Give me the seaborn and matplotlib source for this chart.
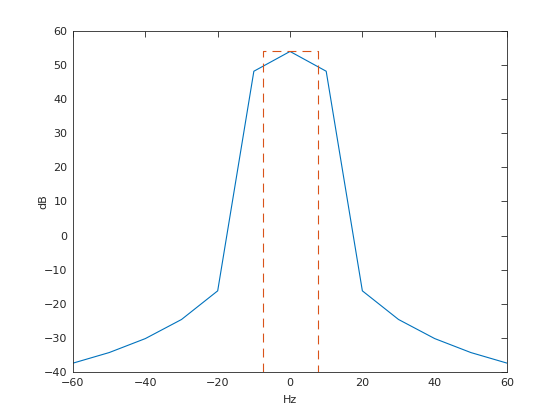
import numpy as np
import pandas as pd
import matplotlib
matplotlib.use("Agg")
import matplotlib.pyplot as plt
import seaborn as sns

sns.set_style("white")
plt.rcParams['font.family'] = ['DejaVu Sans']

freq_hz = [-60, -50, -40, -30, -20, -10, 0, 10, 20, 30, 40, 50, 60]
level_db = [-37.4, -34.3, -30.2, -24.6, -16.2, 48.2, 54.0, 48.2, -16.2, -24.6, -30.2, -34.3, -37.4]

band_x = [-7.6, -7.6, 7.6, 7.6]
band_y = [-40, 54.0, 54.0, -40]

df = pd.DataFrame({"Hz": freq_hz, "dB": level_db})
df_band = pd.DataFrame({"x": band_x, "y": band_y})

blue = (0, 0.447, 0.741)
orange = (0.85, 0.325, 0.098)
grey = (0.15, 0.15, 0.15)

fig = plt.figure(figsize=(5.6, 4.2), dpi=100)
ax = fig.add_axes([0.1304, 0.1143, 0.775, 0.8119])

sns.lineplot(data=df, x="Hz", y="dB", color=blue, linewidth=0.8, ax=ax, sort=False)
sns.lineplot(data=df_band, x="x", y="y", color=orange, linewidth=0.8, ax=ax,
             sort=False, estimator=None, linestyle=(0, (8, 5.5)))

ax.set_xlim(-60, 60)
ax.set_ylim(-40, 60)
ax.set_xticks(np.arange(-60, 61, 20))
ax.set_yticks(np.arange(-40, 61, 10))
ax.set_xlabel("Hz", fontsize=8, color=grey, va="center", ha="center")
ax.set_ylabel("dB", fontsize=8, color=grey, va="center", ha="center")
ax.xaxis.set_label_coords(0.5, -0.082)
ax.yaxis.set_label_coords(-0.069, 0.5)
ax.tick_params(direction="in", length=4, width=0.6, labelsize=8, colors=grey,
               top=True, right=True, pad=4)
for s in ax.spines.values():
    s.set_linewidth(0.6)
    s.set_color(grey)

fig.savefig("out.png", dpi=100)
